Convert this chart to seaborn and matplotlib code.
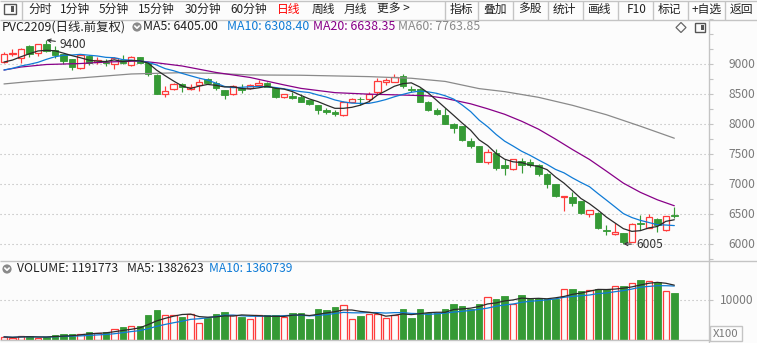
import numpy as np
import pandas as pd
import matplotlib
matplotlib.use("Agg")
import matplotlib.pyplot as plt
import matplotlib.transforms as mtransforms
from matplotlib.patches import Rectangle, Circle, Polygon
import seaborn as sns

# ---------------- data: PVC2209 daily bars ----------------
opens = [9038, 9170, 9105, 9300, 9188, 9339, 9228, 9162, 9078, 8928,
         9133, 9030, 9035, 8995, 9065, 8978, 9117, 9012, 8817, 8495,
         8578, 8672, 8588, 8645, 8745, 8688, 8562, 8495, 8605, 8595,
         8650, 8688, 8595, 8450, 8467, 8450, 8395, 8317, 8228, 8205,
         8150, 8372, 8420, 8412, 8538, 8705, 8705, 8800, 8578, 8590,
         8372, 8233, 8150, 8005, 7967, 7717, 7633, 7367, 7522, 7317,
         7245, 7383, 7360, 7317, 7172, 6995, 6780, 6783, 6717, 6495,
         6522, 6233, 6162, 6180, 6040, 6345, 6275, 6425, 6233, 6480]
highs = [9200, 9245, 9272, 9320, 9340, 9400, 9300, 9170, 9085, 9160,
         9150, 9110, 9080, 9110, 9150, 9130, 9125, 9030, 8830, 8633,
         8690, 8680, 8660, 8750, 8770, 8710, 8570, 8645, 8660, 8665,
         8730, 8700, 8600, 8500, 8540, 8500, 8400, 8320, 8270, 8240,
         8380, 8440, 8450, 8530, 8760, 8760, 8838, 8838, 8640, 8600,
         8380, 8270, 8272, 8010, 7975, 7760, 7640, 7590, 7590, 7420,
         7420, 7440, 7410, 7330, 7180, 7000, 6800, 6872, 6720, 6570,
         6540, 6317, 6355, 6190, 6350, 6480, 6505, 6440, 6470, 6618]
lows = [9020, 9133, 9022, 9122, 9133, 9200, 9105, 8995, 8895, 8920,
        8990, 8995, 8960, 8912, 9000, 8965, 9010, 8800, 8495, 8455,
        8570, 8538, 8560, 8550, 8660, 8560, 8412, 8485, 8520, 8580,
        8610, 8610, 8440, 8440, 8420, 8360, 8320, 8162, 8160, 8140,
        8140, 8360, 8320, 8360, 8500, 8650, 8700, 8595, 8530, 8360,
        8220, 8150, 7995, 7855, 7725, 7600, 7360, 7330, 7230, 7150,
        7235, 7180, 7290, 7140, 6928, 6780, 6550, 6633, 6500, 6450,
        6250, 6150, 6150, 6005, 6030, 6230, 6260, 6205, 6220, 6440]
closes = [9162, 9190, 9245, 9162, 9328, 9217, 9150, 9050, 8955, 9150,
          9022, 9060, 9020, 9095, 9010, 9117, 9022, 8828, 8505, 8550,
          8672, 8617, 8617, 8705, 8688, 8595, 8483, 8633, 8560, 8650,
          8688, 8622, 8455, 8495, 8440, 8372, 8328, 8233, 8205, 8172,
          8372, 8412, 8410, 8495, 8717, 8733, 8790, 8630, 8562, 8372,
          8233, 8172, 8005, 7938, 7733, 7633, 7372, 7533, 7272, 7262,
          7412, 7312, 7320, 7162, 6995, 6800, 6800, 6688, 6512, 6562,
          6270, 6215, 6205, 6030, 6339, 6330, 6445, 6320, 6460, 6470]
volumes = [67000, 45000, 85000, 85000, 41000, 59000, 110000, 135000, 135000, 152000,
           186000, 177000, 194000, 279000, 313000, 338000, 355000, 618000, 745000, 635000,
           618000, 567000, 661000, 432000, 559000, 661000, 695000, 635000, 576000, 517000,
           618000, 618000, 618000, 567000, 669000, 669000, 525000, 771000, 745000, 830000,
           890000, 517000, 593000, 644000, 661000, 550000, 635000, 771000, 550000, 771000,
           687000, 687000, 771000, 898000, 847000, 788000, 898000, 1094000, 1026000, 1102000,
           915000, 1128000, 1026000, 1068000, 1043000, 1043000, 1297000, 1297000, 1229000, 1272000,
           1280000, 1280000, 1350000, 1350000, 1434275, 1520000, 1500000, 1466342, 1235000, 1191773]

# moving-average values at the start of the window (history before the first bar)
ma5_head = [9033, 9066, 9121, 9171]
ma10_head = [8900, 8928, 8967, 8995, 9028, 9078, 9121, 9145, 9150]
ma20_idx = [0, 2, 5, 9, 12, 16, 18, 21, 25, 29, 33, 35, 39, 43, 47, 50, 52, 55,
            57, 59, 61, 63, 65, 67, 69, 71, 73, 75, 77, 79]
ma20_val = [8900, 8950, 8992, 9008, 9033, 9050, 9020, 8967, 8859, 8776, 8652, 8594,
            8523, 8498, 8483, 8470, 8428, 8337, 8254, 8163, 8047, 7914, 7749, 7575,
            7410, 7215, 7015, 6862, 6738, 6638.35]
ma60_idx = [0, 3, 9, 15, 21, 25, 29, 35, 43, 48, 52, 56, 59, 63, 67, 71, 75, 79]
ma60_val = [8668, 8707, 8768, 8834, 8856, 8843, 8818, 8813, 8790, 8763, 8710, 8590,
            8540, 8445, 8312, 8155, 7964, 7763.85]

price_ticks = [6000, 6500, 7000, 7500, 8000, 8500, 9000]
vol_ticks = [1000000]
vol_tick_labels = ["10000"]

toolbar_left = ["分时", "1分钟", "5分钟", "15分钟", "30分钟", "60分钟", "日线", "周线", "月线", "更多 >"]
toolbar_right = ["指标", "叠加", "多股", "统计", "画线", "F10", "标记", "+自选", "返回"]

title_text = "PVC2209(日线.前复权)"
price_legend = ["MA5: 6405.00", "MA10: 6308.40", "MA20: 6638.35", "MA60: 7763.85"]
vol_legend = ["VOLUME: 1191773", "MA5: 1382623", "MA10: 1360739"]
high_mark = (5, 9400)
low_mark = (73, 6005)

# ---------------- styling ----------------
BG = "#fcfcfc"
RED = "#ff3b3b"
GREEN = "#359a35"
C_MA5 = "#2b2b2b"
C_MA10 = "#0f7bd6"
C_MA20 = "#880088"
C_MA60 = "#8a8a8a"
GRID = "#b4b4b4"
LINE = "#c4c4c4"
TXT = "#222222"
AXTXT = "#7a7a7a"

sns.set_theme(style="white", rc={"axes.facecolor": BG, "figure.facecolor": BG})
plt.rcParams["font.family"] = ["Noto Sans CJK SC", "DejaVu Sans"]

W, H = 757, 343
fig = plt.figure(figsize=(W / 100, H / 100), dpi=100)
fig.patch.set_facecolor(BG)

AX_R = 709
P_TOP, P_BOT = 19, 261
V_TOP, V_BOT = 261, 339.5


def box(left, top, right, bottom):
    return [left / W, 1 - bottom / H, (right - left) / W, (bottom - top) / H]


ax = fig.add_axes(box(0, P_TOP, AX_R, P_BOT))
vax = fig.add_axes(box(0, V_TOP, AX_R, V_BOT))

X_STEP, X0 = 8.485, 4.0
xlim = (-X0 / X_STEP, (AX_R - X0) / X_STEP)
PPX = 16.575            # price units per pixel
ylim_p = (9000 - (P_BOT - 63) * PPX, 9000 + (63 - P_TOP) * PPX)
VPX = 1e6 / 39.3        # volume units per pixel
ylim_v = (0, (V_BOT - V_TOP) * VPX)

df = pd.DataFrame({"open": opens, "high": highs, "low": lows,
                   "close": closes, "volume": volumes})
df["idx"] = np.arange(len(df))
rising = (df["close"] > df["open"]).to_numpy()
col = np.where(rising, RED, GREEN)

ma5 = df["close"].rolling(5).mean()
ma5.iloc[:len(ma5_head)] = ma5_head
ma10 = df["close"].rolling(10).mean()
ma10.iloc[:len(ma10_head)] = ma10_head
vma5 = df["volume"].rolling(5, min_periods=1).mean()
vma10 = df["volume"].rolling(10, min_periods=1).mean()

BW = 0.76
# ---- price panel ----
for p in price_ticks:
    ax.axhline(p, color=GRID, lw=0.8, ls=(0, (1, 2.6)), zorder=0)
ax.vlines(df["idx"], df["low"], df["high"], colors=col, linewidth=0.85, zorder=2)
lo = np.minimum(df["open"], df["close"]).to_numpy()
hgt = np.maximum((df["close"] - df["open"]).abs().to_numpy(), 4)
ax.bar(df["idx"][rising], hgt[rising], bottom=lo[rising], width=BW,
       facecolor=BG, edgecolor=RED, linewidth=0.9, zorder=3)
ax.bar(df["idx"][~rising], hgt[~rising], bottom=lo[~rising], width=BW,
       facecolor=GREEN, edgecolor=GREEN, linewidth=0.6, zorder=3)

sns.lineplot(x=ma60_idx, y=ma60_val, ax=ax, color=C_MA60, lw=0.9, zorder=4)
sns.lineplot(x=ma20_idx, y=ma20_val, ax=ax, color=C_MA20, lw=0.9, zorder=4)
sns.lineplot(x=df["idx"], y=ma10, ax=ax, color=C_MA10, lw=0.9, zorder=5)
sns.lineplot(x=df["idx"], y=ma5, ax=ax, color=C_MA5, lw=0.9, zorder=6)

ax.annotate(str(high_mark[1]), xy=high_mark, xytext=(60, H - 44), textcoords="figure pixels",
            ha="left", va="center", fontsize=8.6, color="#333333",
            arrowprops=dict(arrowstyle="->", color="#333333", lw=0.8,
                            shrinkA=1, shrinkB=0, mutation_scale=6))
ax.annotate(str(low_mark[1]), xy=low_mark, xytext=(636, H - 245), textcoords="figure pixels",
            ha="left", va="center", fontsize=8.6, color="#333333",
            arrowprops=dict(arrowstyle="->", color="#333333", lw=0.8,
                            shrinkA=1, shrinkB=0, mutation_scale=6))

ax.set_xlim(*xlim)
ax.set_ylim(*ylim_p)
ax.set_xticks([])
ax.set_xlabel("")
ax.set_ylabel("")
ax.yaxis.set_ticks_position("right")
ax.set_yticks(np.arange(5750, 9751, 250))
ax.tick_params(axis="y", length=3, width=0.8, color=LINE, labelright=False,
               labelleft=False, direction="out")
for s in ax.spines.values():
    s.set_visible(False)

tp = mtransforms.blended_transform_factory(fig.transFigure, ax.transData)
for p in price_ticks:
    ax.text(755 / W, p, str(p), transform=tp, ha="right", va="center",
            fontsize=8.6, color=AXTXT)

# ---- volume panel ----
for v in vol_ticks:
    vax.axhline(v, color=GRID, lw=0.8, ls=(0, (1, 2.6)), zorder=0)
vax.bar(df["idx"][rising], df["volume"][rising], width=BW, facecolor=BG,
        edgecolor=RED, linewidth=0.9, zorder=2)
vax.bar(df["idx"][~rising], df["volume"][~rising], width=BW, facecolor=GREEN,
        edgecolor=GREEN, linewidth=0.6, zorder=2)
sns.lineplot(x=df["idx"], y=vma10, ax=vax, color=C_MA10, lw=0.9, zorder=3)
sns.lineplot(x=df["idx"], y=vma5, ax=vax, color=C_MA5, lw=0.9, zorder=4)
vax.set_xlim(*xlim)
vax.set_ylim(*ylim_v)
vax.set_xticks([])
vax.set_xlabel("")
vax.set_ylabel("")
vax.yaxis.set_ticks_position("right")
vax.set_yticks(vol_ticks)
vax.tick_params(axis="y", length=3, width=0.8, color=LINE, labelright=False,
                labelleft=False, direction="out")
for s in vax.spines.values():
    s.set_visible(False)
tv = mtransforms.blended_transform_factory(fig.transFigure, vax.transData)
for v, lab in zip(vol_ticks, vol_tick_labels):
    vax.text(754 / W, v, lab, transform=tv, ha="right", va="center",
             fontsize=8.6, color=AXTXT)

# ---- frame, toolbar and legends (pixel coordinates) ----
ov = fig.add_axes([0, 0, 1, 1], zorder=10)
ov.set_xlim(0, W)
ov.set_ylim(H, 0)
ov.axis("off")

ov.hlines([0.5, 19.5, 261], 0, W, color=LINE, lw=1)
ov.hlines(340, 0, AX_R, color=LINE, lw=1)
ov.vlines(AX_R, 19.5, H, color=LINE, lw=1)
ov.vlines([22, 445, 478, 513, 548, 583, 618, 653, 688, 725], 0.5, 19.5, color=LINE, lw=1)

# panel icon at the top-left and next to the price legend
for (bx, by, bw, bh) in [(4, 4, 12, 10), (695, 23, 10, 9)]:
    ov.add_patch(Rectangle((bx, by), bw, bh, fill=False, ec="#555555", lw=1))
    ov.add_patch(Rectangle((bx + bw * 0.55, by + 2), bw * 0.3, bh - 4, color="#555555", lw=0))
ov.add_patch(Polygon([(676, 27.5), (681, 22.5), (686, 27.5), (681, 32.5)],
                     closed=True, fill=False, ec="#666666", lw=0.9))


def chevron_icon(cx, cy):
    ov.add_patch(Circle((cx, cy), 4.6, color="#8a8a8a", lw=0))
    ov.plot([cx - 2.2, cx, cx + 2.2], [cy - 1.0, cy + 1.2, cy - 1.0], color="white", lw=1.2)


chevron_icon(137, 27)
chevron_icon(7, 269)

left_x = [28, 60, 99, 138, 185, 230, 277, 312, 344, 377]
for x, s in zip(left_x, toolbar_left):
    ov.text(x, 9.5, s, ha="left", va="center", fontsize=8.5,
            color="#ff0000" if s == "日线" else TXT)
right_x = [450, 483, 518, 553, 588, 627, 658, 692, 730]
for x, s in zip(right_x, toolbar_right):
    ov.text(x, 9.5, s, ha="left", va="center", fontsize=8.5, color=TXT)

ov.text(2, 27, title_text, ha="left", va="center", fontsize=8.9, color=TXT)
for x, s, c in zip([143, 227, 313, 398], price_legend, [TXT, C_MA10, C_MA20, C_MA60]):
    ov.text(x, 27, s, ha="left", va="center", fontsize=8.9, color=c)
for x, s, c in zip([17, 127, 209], vol_legend, [TXT, TXT, C_MA10]):
    ov.text(x, 269, s, ha="left", va="center", fontsize=8.7, color=c)

ov.add_patch(Rectangle((710, 326), 32, 15, fill=False, ec=LINE, lw=1))
ov.text(726, 334, "X100", ha="center", va="center", fontsize=8.2, color=AXTXT)

fig.savefig("out.png", dpi=100, facecolor=BG)
